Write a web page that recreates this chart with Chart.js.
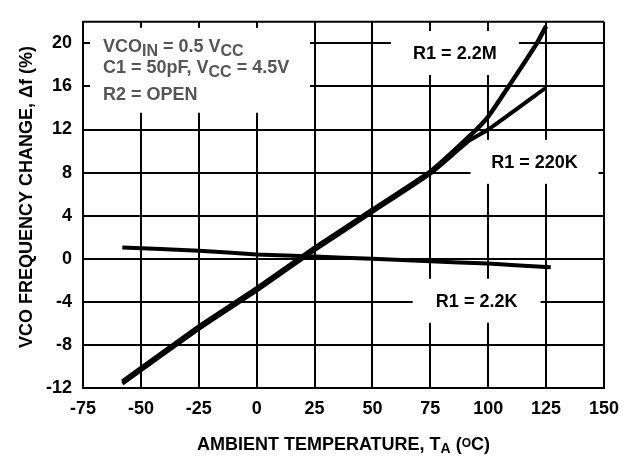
<!DOCTYPE html>
<html><head><meta charset="utf-8">
<script src="https://cdn.jsdelivr.net/npm/chart.js@4.4.0/dist/chart.umd.min.js"></script>
<style>html,body{margin:0;padding:0;background:#fff}#wrap{width:637px;height:457px}</style>
</head><body><div id="wrap"><canvas id="c" width="637" height="457"></canvas></div>
<script>
const FAM = '"Liberation Sans", Arial, Helvetica, sans-serif';
Chart.defaults.font.family = FAM;

// ---- data ----
const xTicks = [-75, -50, -25, 0, 25, 50, 75, 100, 125, 150];
const yTicks = [-12, -8, -4, 0, 4, 8, 12, 16, 20];

const temp2M  = [-58, -25, 0, 25, 50, 75, 92, 100, 108.5, 121, 125];
const val2M   = [-11.4, -6.3, -2.75, 1.0, 4.55, 8.1, 11.4, 13.2, 15.9, 20.0, 21.6];
const temp220K = [-58, -25, 0, 25, 50, 75, 92, 100, 125];
const val220K  = [-11.6, -6.5, -2.95, 0.8, 4.35, 7.9, 11.0, 12.0, 15.9];
const temp22K = [-58, -25, 0, 25, 50, 75, 100, 127];
const val22K  = [1.05, 0.75, 0.4, 0.2, 0.0, -0.24, -0.45, -0.8];

const curveLabels = ["R1 = 2.2M", "R1 = 220K", "R1 = 2.2K"];
const labelTemps = [85.6, 120, 95];
const labelVals = [19.1, 9.0, -3.9];

function pts(t, v) { return t.map((x, i) => ({ x: x, y: v[i] })); }

function font(s) { return 'bold ' + s + 'px ' + FAM; }
function richWidth(ctx, parts) {
  let w = 0;
  for (const p of parts) { ctx.font = font(p.s); w += ctx.measureText(p.t).width; }
  return w;
}
function drawRich(ctx, parts, x, y) {
  ctx.textAlign = 'left'; ctx.textBaseline = 'alphabetic';
  for (const p of parts) {
    ctx.font = font(p.s);
    ctx.fillText(p.t, x, y + (p.dy || 0));
    x += ctx.measureText(p.t).width;
  }
}

const overlay = {
  id: 'overlay',
  beforeDatasetsDraw(chart) {
    const { ctx, chartArea: a, scales } = chart;
    const xs = scales.x, ys = scales.y;
    ctx.save();
    ctx.strokeStyle = '#000'; ctx.lineWidth = 2;
    ctx.beginPath(); ctx.moveTo(a.left, a.top); ctx.lineTo(a.right, a.top); ctx.stroke();
    // condition note box
    ctx.fillStyle = '#fff';
    ctx.fillRect(a.left + 7, a.top + 6, 220, 85);
    ctx.fillStyle = '#555';
    const lx = a.left + 20;
    drawRich(ctx, [{t:'VCO', s:18}, {t:'IN', s:16, dy:4}, {t:' = 0.5 V', s:18}, {t:'CC', s:16, dy:4}], lx, a.top + 30);
    drawRich(ctx, [{t:'C1 = 50pF, V', s:18}, {t:'CC', s:16, dy:4}, {t:' = 4.5V', s:18}], lx, a.top + 51);
    drawRich(ctx, [{t:'R2 = OPEN', s:18}], lx, a.top + 78);
    // curve labels
    for (let i = 0; i < curveLabels.length; i++) {
      const cx = xs.getPixelForValue(labelTemps[i]);
      const cy = ys.getPixelForValue(labelVals[i]);
      ctx.fillStyle = '#fff';
      ctx.fillRect(cx - 64, cy - 22, 128, 44);
      ctx.fillStyle = '#000';
      ctx.font = font(18);
      ctx.textAlign = 'center'; ctx.textBaseline = 'middle';
      ctx.fillText(curveLabels[i], cx, cy + 1);
    }
    ctx.restore();
  },
  afterDraw(chart) {
    const { ctx, chartArea: a } = chart;
    ctx.save();
    ctx.fillStyle = '#000';
    const xt = [{t:'AMBIENT TEMPERATURE, T', s:18}, {t:'A', s:14, dy:3}, {t:' (', s:18}, {t:'O', s:12, dy:-3}, {t:'C)', s:18}];
    const w = richWidth(ctx, xt);
    drawRich(ctx, xt, (a.left + a.right) / 2 - w / 2, 450);
    ctx.translate(31.5, 197);
    ctx.rotate(-Math.PI / 2);
    ctx.font = font(18);
    ctx.textAlign = 'center'; ctx.textBaseline = 'alphabetic';
    ctx.fillText('VCO FREQUENCY CHANGE, \u0394f (%)', 0, 0);
    ctx.restore();
  }
};

const lineStyle = { borderColor: '#000', pointRadius: 0, tension: 0.15, fill: false };

new Chart(document.getElementById('c'), {
  type: 'line',
  data: {
    datasets: [
      Object.assign({ data: pts(temp22K, val22K), borderWidth: 4 }, lineStyle),
      Object.assign({ data: pts(temp220K, val220K), borderWidth: 4 }, lineStyle),
      Object.assign({ data: pts(temp2M, val2M), borderWidth: 4.5 }, lineStyle)
    ]
  },
  options: {
    responsive: false,
    animation: false,
    events: [],
    layout: { padding: { top: 9, right: 33, left: 0, bottom: 0 } },
    plugins: { legend: { display: false }, tooltip: { enabled: false }, title: { display: false } },
    scales: {
      x: {
        type: 'linear', min: -75, max: 150,
        afterBuildTicks: s => { s.ticks = xTicks.map(v => ({ value: v })); },
        afterFit: s => { s.height = 69; },
        grid: { color: '#000', lineWidth: 2, drawTicks: false },
        border: { color: '#000', width: 2 },
        ticks: { color: '#000', font: { size: 18, weight: 'bold' }, padding: 10, maxRotation: 0, autoSkip: false }
      },
      y: {
        type: 'linear', min: -12, max: 22,
        afterBuildTicks: s => { s.ticks = yTicks.map(v => ({ value: v })); },
        afterFit: s => { s.width = 83; },
        grid: { color: '#000', lineWidth: 2, drawTicks: false },
        border: { color: '#000', width: 2 },
        ticks: { color: '#000', font: { size: 18, weight: 'bold' }, padding: 11, autoSkip: false }
      }
    }
  },
  plugins: [overlay]
});
</script>
</body></html>
